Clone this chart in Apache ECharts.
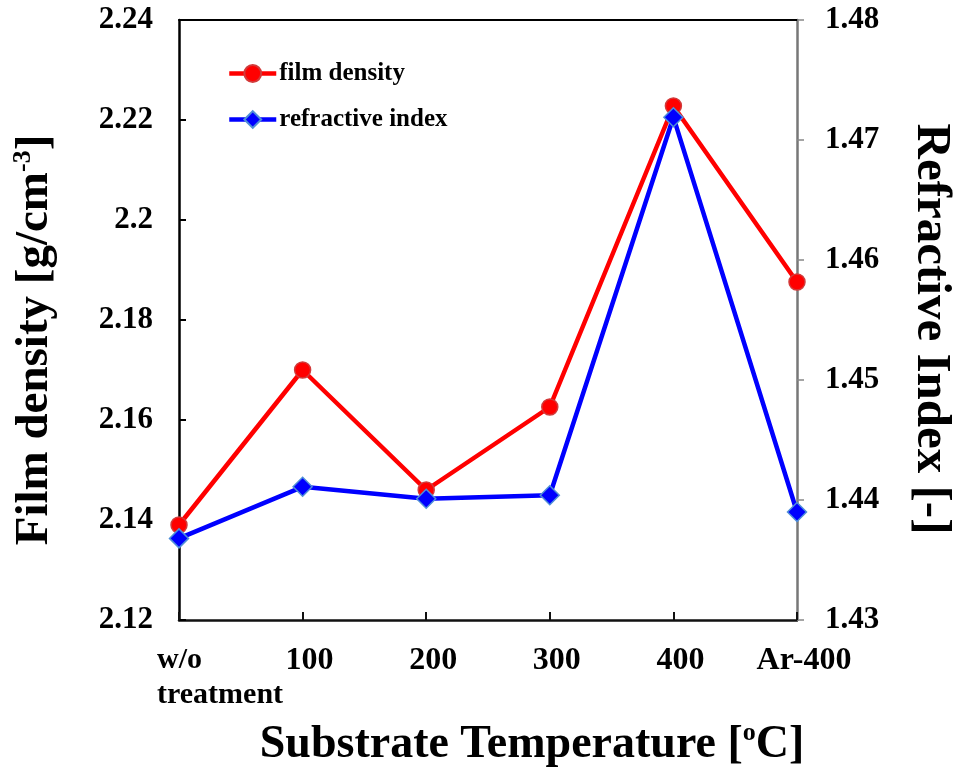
<!DOCTYPE html>
<html><head><meta charset="utf-8">
<script src="https://cdn.jsdelivr.net/npm/echarts@6/dist/echarts.min.js"></script>
<style>html,body{margin:0;padding:0;background:#fff}#c{width:958px;height:771px}</style>
</head><body><div id="c"></div>
<script>
const categories = ['w/o treatment', '100', '200', '300', '400', 'Ar-400'];
const filmDensity = [2.139, 2.170, 2.146, 2.1626, 2.2228, 2.1876];
const refractiveIndex = [1.4368, 1.4411, 1.4401, 1.4404, 1.4719, 1.4390];
const densityAxis = [2.12, 2.24, 0.02];
const indexAxis = [1.43, 1.48, 0.01];
const seriesNames = ['film density', 'refractive index'];

const FONT = '"Liberation Serif", "Times New Roman", serif';
const chart = echarts.init(document.getElementById('c'), null, {renderer: 'canvas'});
chart.setOption({
  animation: false,
  backgroundColor: '#fff',
  grid: {left: 179, right: 161, top: 20, bottom: 151, containLabel: false},
  legend: {
    orient: 'vertical', left: 222, top: 56, itemWidth: 47, itemHeight: 21, itemGap: 21,
    lineStyle: {width: 4.5},
    textStyle: {fontFamily: FONT, fontWeight: 'bold', fontSize: 25, color: '#000', padding: [0, 0, 0, -2]},
    data: seriesNames
  },
  xAxis: [{
    type: 'category', data: categories, boundaryGap: false, position: 'bottom',
    axisLine: {lineStyle: {color: '#111', width: 2.5}},
    axisTick: {inside: true, length: 8, alignWithLabel: true, interval: 0, lineStyle: {color: '#111', width: 2}},
    axisLabel: {
      interval: 0, margin: 23, color: '#000',
      fontFamily: FONT, fontWeight: 'bold', fontSize: 32,
      formatter: function (v, i) {
        if (i === 0) return '{l|w/o}\n{l|treatment}';
        return '{c|' + v + '}';
      },
      rich: {
        l: {width: 44, align: 'left', fontFamily: FONT, fontWeight: 'bold', fontSize: 30, lineHeight: 35, color: '#000'},
        c: {padding: [0, 0, 0, 14], fontFamily: FONT, fontWeight: 'bold', fontSize: 32, lineHeight: 35, color: '#000'}
      }
    },
    splitLine: {show: false}
  }, {
    type: 'category', data: categories, boundaryGap: false, position: 'top',
    axisLine: {lineStyle: {color: '#000', width: 2}},
    axisTick: {show: false}, axisLabel: {show: false}, splitLine: {show: false}
  }],
  yAxis: [{
    type: 'value', min: densityAxis[0], max: densityAxis[1], interval: densityAxis[2], position: 'left',
    axisLine: {show: true, lineStyle: {color: '#000', width: 2.5}},
    axisTick: {show: true, inside: true, length: 7, lineStyle: {color: '#000', width: 2}},
    axisLabel: {margin: 26, color: '#000', fontFamily: FONT, fontWeight: 'bold', fontSize: 31,
      formatter: v => String(+v.toFixed(2))},
    splitLine: {show: false}
  }, {
    type: 'value', min: indexAxis[0], max: indexAxis[1], interval: indexAxis[2], position: 'right',
    axisLine: {show: true, lineStyle: {color: '#777', width: 2.5}},
    axisTick: {show: true, inside: false, length: 7, lineStyle: {color: '#888', width: 1.5}},
    axisLabel: {margin: 28, color: '#000', fontFamily: FONT, fontWeight: 'bold', fontSize: 31,
      formatter: v => (+v).toFixed(2)},
    splitLine: {show: false}
  }],
  series: [{
    name: seriesNames[0], type: 'line', xAxisIndex: 0, yAxisIndex: 0, data: filmDensity,
    symbol: 'circle', symbolSize: 16,
    lineStyle: {color: '#ff0000', width: 4.5},
    itemStyle: {color: '#ff0000', borderColor: '#d23a3a', borderWidth: 1.5},
    z: 2
  }, {
    name: seriesNames[1], type: 'line', xAxisIndex: 0, yAxisIndex: 1, data: refractiveIndex,
    symbol: 'diamond', symbolSize: [19, 19],
    lineStyle: {color: '#0000ff', width: 4.5},
    itemStyle: {color: '#0000ff', borderColor: '#4f8fd8', borderWidth: 1.5},
    z: 3
  }],
  graphic: [{
    type: 'text', x: 532, y: 745,
    style: {
      text: '{t|Substrate Temperature [}{s|o}{t|C]}',
      align: 'center', verticalAlign: 'middle',
      rich: {
        t: {fontFamily: FONT, fontWeight: 'bold', fontSize: 46, lineHeight: 50, fill: '#000'},
        s: {fontFamily: FONT, fontWeight: 'bold', fontSize: 26, lineHeight: 50, verticalAlign: 'top', padding: [0, 0, 20, 0], fill: '#000'}
      }
    }
  }, {
    type: 'text', x: 35, y: 340, rotation: Math.PI / 2,
    style: {
      text: '{t|Film density [g/cm}{s|-3}{t|]}',
      align: 'center', verticalAlign: 'middle',
      rich: {
        t: {fontFamily: FONT, fontWeight: 'bold', fontSize: 47, lineHeight: 50, fill: '#000'},
        s: {fontFamily: FONT, fontWeight: 'bold', fontSize: 26, lineHeight: 50, verticalAlign: 'top', padding: [0, 0, 20, 0], fill: '#000'}
      }
    }
  }, {
    type: 'text', x: 931, y: 329, rotation: -Math.PI / 2,
    style: {
      text: 'Refractive Index [-]',
      align: 'center', verticalAlign: 'middle',
      fontFamily: FONT, fontWeight: 'bold', fontSize: 49, fill: '#000'
    }
  }]
});
</script></body></html>
